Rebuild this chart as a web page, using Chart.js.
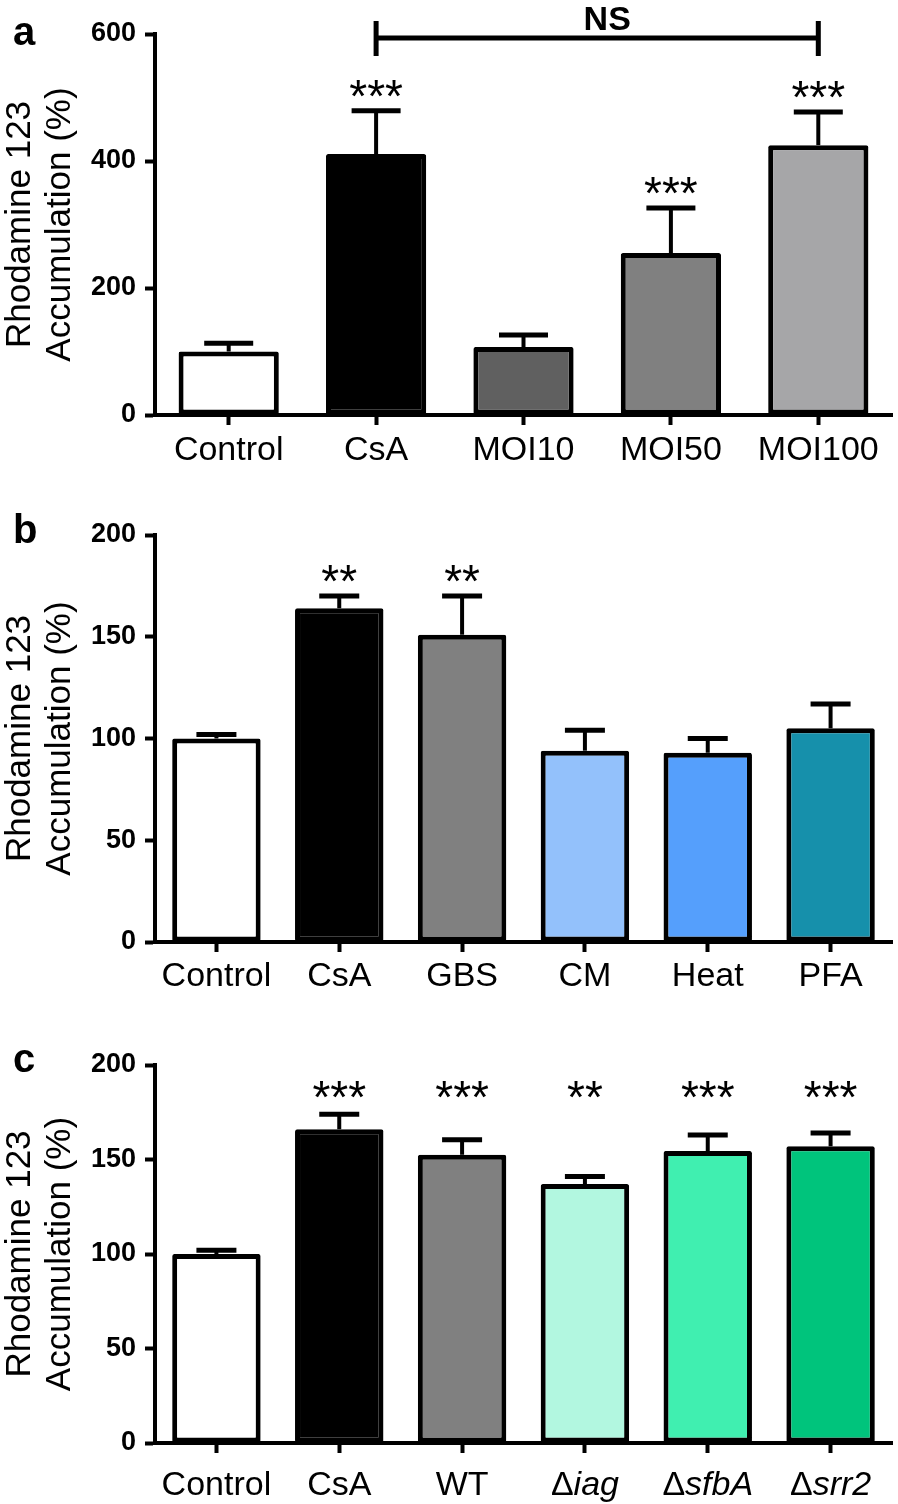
<!DOCTYPE html>
<html>
<head>
<meta charset="utf-8">
<script src="https://cdn.jsdelivr.net/npm/chart.js@4.4.1/dist/chart.umd.min.js"></script>
<style>
  html, body { margin: 0; padding: 0; background: #fff; }
  #fig { position: relative; width: 898px; height: 1504px; overflow: hidden; }
  .panel { position: absolute; left: 0; width: 898px; }
</style>
</head>
<body>
<div id="fig">
  <div class="panel" style="top:0;height:500px"><canvas id="chartA" width="898" height="500"></canvas></div>
  <div class="panel" style="top:500px;height:515px"><canvas id="chartB" width="898" height="515"></canvas></div>
  <div class="panel" style="top:1015px;height:489px"><canvas id="chartC" width="898" height="489"></canvas></div>
</div>
<script>
// panel a
const catsA = ['Control', 'CsA', 'MOI10', 'MOI50', 'MOI100'];
const meansA = [100, 411, 107, 255, 425];
const errA = [13, 68, 19, 71, 52];
const starsA = ['', '***', '', '***', '***'];

// panel b
const catsB = ['Control', 'CsA', 'GBS', 'CM', 'Heat', 'PFA'];
const meansB = [100, 164, 151, 94, 93, 105];
const errB = [2, 6, 19, 10, 7, 12];
const starsB = ['', '**', '**', '', '', ''];

// panel c
const catsC = ['Control', 'CsA', 'WT', 'Δiag', 'ΔsfbA', 'Δsrr2'];
const meansC = [100, 166, 152.5, 137, 154.5, 157];
const errC = [2, 8, 8, 4, 8.5, 7];
const starsC = ['', '***', '***', '**', '***', '***'];

const yTitle = ['Rhodamine 123', 'Accumulation (%)'];

const fillA = ['#ffffff', '#000000', '#606060', '#808080', '#a6a6a8'];
const fillB = ['#ffffff', '#000000', '#808080', '#93c1fb', '#559ffc', '#1690ab'];
const fillC = ['#ffffff', '#000000', '#808080', '#b2f7e0', '#40efb0', '#00c47c'];

const FONT = '"Liberation Sans", Arial, Helvetica, sans-serif';
Chart.defaults.font.family = FONT;
Chart.defaults.color = '#000';

// error bars, stars, panel letter, bracket, italic labels
function overlay(p) {
  return {
    id: 'overlay',
    afterDatasetsDraw(chart) {
      const ctx = chart.ctx;
      const xs = chart.scales.x, ys = chart.scales.y;
      ctx.save();
      ctx.strokeStyle = '#000';
      ctx.fillStyle = '#000';
      ctx.lineCap = 'butt';
      p.means.forEach((m, i) => {
        const cx = xs.getPixelForValue(i);
        const y0 = ys.getPixelForValue(m);
        const y1 = ys.getPixelForValue(m + p.errs[i]);
        ctx.lineWidth = 4;
        ctx.beginPath(); ctx.moveTo(cx, y0); ctx.lineTo(cx, y1); ctx.stroke();
        ctx.lineWidth = 5;
        ctx.beginPath(); ctx.moveTo(cx - p.capW / 2, y1); ctx.lineTo(cx + p.capW / 2, y1); ctx.stroke();
        if (p.stars[i]) {
          const sy = p.starLevel != null ? ys.getPixelForValue(p.starLevel) : y1 - 19;
          ctx.font = '46px ' + FONT;
          ctx.textAlign = 'center';
          ctx.textBaseline = 'alphabetic';
          ctx.fillText(p.stars[i], cx, sy + 20);
        }
      });

      // panel letter
      ctx.font = 'bold 40px ' + FONT;
      ctx.textAlign = 'left';
      ctx.textBaseline = 'alphabetic';
      ctx.fillText(p.letter, 13, p.letterY);

      if (p.bracket) {
        const x1 = xs.getPixelForValue(p.bracket[0]);
        const x2 = xs.getPixelForValue(p.bracket[1]);
        const yb = chart.chartArea.top + 4;
        ctx.lineWidth = 5;
        ctx.beginPath();
        ctx.moveTo(x1, yb); ctx.lineTo(x2, yb);
        ctx.moveTo(x1, yb - 17); ctx.lineTo(x1, yb + 18);
        ctx.moveTo(x2, yb - 17); ctx.lineTo(x2, yb + 18);
        ctx.stroke();
        ctx.font = 'bold 34px ' + FONT;
        ctx.textAlign = 'center';
        ctx.fillText('NS', (x1 + x2) / 2 + 10, 30);
      }

      if (p.customLabels) {
        const ly = chart.chartArea.bottom + 43;
        ctx.textBaseline = 'middle';
        ctx.textAlign = 'left';
        p.labels.forEach((lab, i) => {
          const cx = xs.getPixelForValue(i);
          let parts = [[lab, '']];
          if (lab.startsWith('Δ')) parts = [['Δ', ''], [lab.slice(1), 'italic ']];
          let w = 0;
          parts.forEach(([t, st]) => { ctx.font = st + '34px ' + FONT; w += ctx.measureText(t).width; });
          let x = cx - w / 2;
          parts.forEach(([t, st]) => {
            ctx.font = st + '34px ' + FONT;
            ctx.fillText(t, x, ly);
            x += ctx.measureText(t).width;
          });
        });
      }
      ctx.restore();
    }
  };
}

function makeChart(id, p) {
  return new Chart(document.getElementById(id), {
    type: 'bar',
    data: {
      labels: p.labels,
      datasets: [{
        data: p.means,
        backgroundColor: p.fill,
        borderColor: '#000',
        borderWidth: 5,
        borderSkipped: false,
        borderRadius: 2,
        barPercentage: p.barPct,
        categoryPercentage: 1
      }]
    },
    options: {
      responsive: false,
      animation: false,
      devicePixelRatio: 1,
      layout: { padding: { top: p.padTop, right: 6, left: 0, bottom: 0 } },
      plugins: { legend: { display: false }, tooltip: { enabled: false } },
      scales: {
        x: {
          offset: true,
          grid: { offset: false, drawOnChartArea: false, drawTicks: true, tickLength: 10, tickWidth: 4, tickColor: '#000' },
          border: { color: '#000', width: 4 },
          ticks: { display: !p.customLabels, color: '#000', font: { size: 34 }, padding: p.xPad, maxRotation: 0, autoSkip: false },
          afterFit(s) { s.height = p.xHeight; }
        },
        y: {
          min: 0,
          max: p.max,
          grid: { drawOnChartArea: false, tickLength: 10, tickWidth: 4, tickColor: '#000' },
          border: { color: '#000', width: 4 },
          ticks: { stepSize: p.step, color: '#000', font: { size: 27, weight: 'bold' }, padding: 9 },
          title: {
            display: true,
            text: yTitle,
            color: '#000',
            font: { size: 35, lineHeight: 1.15 },
            padding: { top: 0, bottom: 0 }
          },
          afterFit(s) { s.width = 155; }
        }
      }
    },
    plugins: [overlay(p)]
  });
}

makeChart('chartA', {
  labels: catsA, means: meansA, errs: errA, stars: starsA, fill: fillA,
  max: 600, step: 200, padTop: 34, xHeight: 85, xPad: 5, barPct: 0.68, capW: 49,
  letter: 'a', letterY: 45, bracket: [1, 4]
});
makeChart('chartB', {
  labels: catsB, means: meansB, errs: errB, stars: starsB, fill: fillB,
  max: 200, step: 50, padTop: 35, xHeight: 73, xPad: 4, barPct: 0.72, capW: 40,
  letter: 'b', letterY: 43
});
makeChart('chartC', {
  labels: catsC, means: meansC, errs: errC, stars: starsC, fill: fillC,
  max: 200, step: 50, padTop: 50, xHeight: 61, xPad: 4, barPct: 0.72, capW: 40,
  letter: 'c', letterY: 57, starLevel: 185, customLabels: true
});
</script>
</body>
</html>
